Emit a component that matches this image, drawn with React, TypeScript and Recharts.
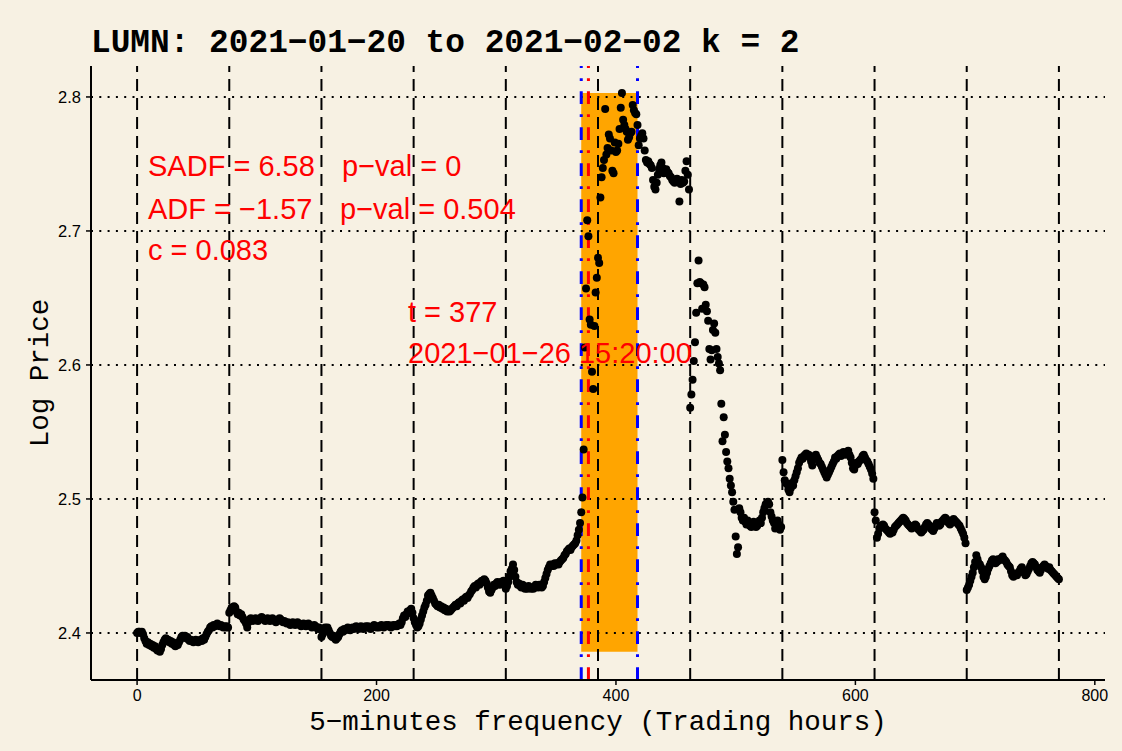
import { ComposedChart, Scatter, XAxis, YAxis, ReferenceLine, ReferenceArea } from "recharts"

// log price, one array per trading day (5-minute bars)
const day1 = [
  2.400, 2.401, 2.401, 2.400, 2.401, 2.399, 2.396, 2.394, 2.392, 2.393, 2.391, 2.392, 2.390,
  2.391, 2.389, 2.390, 2.388, 2.387, 2.388, 2.386, 2.388, 2.391, 2.393, 2.395, 2.396, 2.394, 2.395, 2.393,
  2.394, 2.392, 2.393, 2.391, 2.390, 2.392, 2.391, 2.393, 2.395, 2.397, 2.398, 2.397, 2.398, 2.396, 2.397, 2.395, 2.394,
  2.395, 2.394, 2.393, 2.394, 2.395, 2.394, 2.393, 2.394, 2.395, 2.394, 2.396, 2.395,
  2.397, 2.399, 2.401, 2.402, 2.404, 2.405, 2.404, 2.406,
  2.405, 2.406, 2.407, 2.406, 2.405, 2.406, 2.405, 2.404, 2.405, 2.404, 2.405, 2.404,
]
const day2 = [
  2.415, 2.417, 2.419, 2.418, 2.420, 2.419, 2.416, 2.414, 2.415, 2.413, 2.414, 2.412,
  2.410, 2.409, 2.407, 2.404, 2.408,
  2.410, 2.411, 2.410, 2.409, 2.410, 2.411, 2.410, 2.409, 2.410, 2.411, 2.412, 2.411,
  2.410, 2.409, 2.410, 2.411, 2.410, 2.409, 2.410, 2.411, 2.410, 2.409, 2.408, 2.409, 2.410, 2.411, 2.410,
  2.409, 2.408, 2.409, 2.408, 2.407, 2.408, 2.407, 2.406, 2.407, 2.408, 2.407, 2.406, 2.407, 2.408, 2.407,
  2.406, 2.405, 2.406, 2.407, 2.406, 2.405, 2.406, 2.407, 2.406, 2.405, 2.404, 2.405, 2.406, 2.405, 2.404, 2.403, 2.404, 2.403,
]
const day3 = [
  2.397, 2.399, 2.402, 2.404, 2.403, 2.404, 2.402,
  2.400, 2.398, 2.397, 2.398, 2.396, 2.395, 2.396, 2.397, 2.399, 2.401,
  2.402, 2.401, 2.403, 2.402, 2.403, 2.404, 2.403, 2.402, 2.403, 2.404, 2.403, 2.404, 2.405, 2.404, 2.403,
  2.404, 2.405, 2.404, 2.403, 2.404, 2.405, 2.404, 2.405, 2.404, 2.403, 2.404, 2.405, 2.406, 2.405, 2.404,
  2.405, 2.404, 2.405, 2.406, 2.405, 2.404, 2.405, 2.406, 2.405, 2.406, 2.405, 2.404, 2.405, 2.406, 2.405,
  2.406, 2.405, 2.406, 2.407, 2.406, 2.408, 2.411, 2.413, 2.412, 2.414, 2.416, 2.415, 2.417, 2.418, 2.415,
]
const day4 = [
  2.411, 2.408, 2.406, 2.404, 2.405, 2.407, 2.410,
  2.413, 2.416, 2.419, 2.421, 2.424, 2.428, 2.429, 2.430, 2.428, 2.426,
  2.424, 2.422, 2.421, 2.420, 2.421, 2.419, 2.420, 2.418, 2.419, 2.417, 2.418, 2.416, 2.417, 2.416, 2.417,
  2.418, 2.419, 2.420, 2.421, 2.420, 2.422, 2.423, 2.422, 2.424, 2.425, 2.424, 2.426, 2.427, 2.426, 2.428,
  2.429, 2.431, 2.432, 2.434, 2.435, 2.434, 2.436, 2.437, 2.436, 2.438, 2.439, 2.438, 2.440, 2.439, 2.437,
  2.434, 2.431, 2.430, 2.432, 2.434, 2.436, 2.435, 2.437, 2.438, 2.437, 2.436, 2.438, 2.437, 2.439, 2.438,
]
const day5 = [
  2.433, 2.435, 2.438, 2.442, 2.446, 2.448, 2.451, 2.447,
  2.442, 2.438, 2.436, 2.437, 2.435, 2.434, 2.436, 2.435, 2.433, 2.434, 2.433, 2.435, 2.434, 2.433, 2.434,
  2.433, 2.434, 2.436, 2.435, 2.434, 2.436, 2.435, 2.434, 2.435, 2.438, 2.441, 2.444, 2.447, 2.449, 2.451,
  2.450, 2.451, 2.450, 2.452, 2.451, 2.452, 2.451, 2.453, 2.454, 2.455, 2.456, 2.458, 2.459, 2.461, 2.462,
  2.463, 2.462, 2.464, 2.465, 2.466, 2.467, 2.469, 2.473, 2.477, 2.482, 2.490,
  2.501, 2.537, 2.613, 2.657, 2.708, 2.696, 2.634, 2.630, 2.595, 2.582, 2.629, 2.654, 2.665,
]
const day6 = [
  2.680, 2.676, 2.725, 2.740, 2.747, 2.753, 2.791, 2.757, 2.762, 2.772, 2.769, 2.760, 2.745, 2.743,
  2.766, 2.759, 2.760, 2.765, 2.776, 2.792, 2.803, 2.783, 2.779, 2.776, 2.774, 2.768, 2.770, 2.773,
  2.774, 2.794, 2.790, 2.788, 2.787, 2.779, 2.764, 2.769, 2.771, 2.773, 2.769, 2.760, 2.753,
  2.751, 2.752, 2.750, 2.749, 2.747, 2.738, 2.733, 2.731, 2.736, 2.742, 2.746, 2.749, 2.751, 2.747,
  2.743, 2.745, 2.746, 2.744, 2.743, 2.741, 2.740, 2.738, 2.737, 2.736, 2.738, 2.739, 2.737, 2.722,
  2.735, 2.738, 2.736, 2.737, 2.745, 2.752, 2.742, 2.731,
]
const day7 = [
  2.568, 2.578, 2.589, 2.603, 2.617, 2.639, 2.661, 2.678, 2.662, 2.661, 2.642, 2.660, 2.658, 2.645,
  2.640, 2.633, 2.612, 2.604, 2.611, 2.626, 2.631, 2.624, 2.612, 2.606, 2.601, 2.596, 2.571, 2.543,
  2.561, 2.548, 2.535, 2.528, 2.523, 2.515, 2.510, 2.505, 2.498, 2.492, 2.472, 2.459, 2.464, 2.493,
  2.490, 2.486, 2.484, 2.486, 2.483, 2.481, 2.484, 2.482, 2.480, 2.479, 2.481, 2.483, 2.481, 2.479,
  2.480, 2.482, 2.484, 2.482, 2.486, 2.490, 2.493, 2.496, 2.497, 2.498, 2.496, 2.490, 2.487, 2.484,
  2.482, 2.478, 2.480, 2.484, 2.481, 2.477, 2.479,
]
const day8 = [
  2.529, 2.520, 2.514, 2.512, 2.511, 2.507, 2.505, 2.508, 2.512, 2.510, 2.514, 2.517, 2.520, 2.523,
  2.527, 2.529, 2.531, 2.530, 2.532, 2.533, 2.534, 2.532, 2.533, 2.531, 2.528, 2.525, 2.531, 2.532,
  2.533, 2.531, 2.529, 2.527, 2.526, 2.524, 2.522, 2.520, 2.518, 2.516, 2.518, 2.520, 2.522, 2.524,
  2.526, 2.528, 2.531, 2.530, 2.532, 2.533, 2.534, 2.532, 2.533, 2.535, 2.534, 2.533, 2.535, 2.536,
  2.533, 2.531, 2.527, 2.523, 2.522, 2.525, 2.527, 2.526, 2.528, 2.529, 2.530, 2.532, 2.533, 2.531,
  2.529, 2.528, 2.526, 2.524, 2.522, 2.519, 2.515,
]
const day9 = [
  2.490, 2.484, 2.471, 2.474, 2.478, 2.480, 2.479, 2.481, 2.480, 2.478, 2.477, 2.476, 2.475, 2.474,
  2.476, 2.475, 2.477, 2.479, 2.480, 2.481, 2.482, 2.483, 2.484, 2.485, 2.486, 2.485, 2.484, 2.482,
  2.481, 2.480, 2.479, 2.478, 2.479, 2.480, 2.481, 2.480, 2.478, 2.477, 2.476, 2.475, 2.476, 2.477,
  2.479, 2.481, 2.482, 2.481, 2.480, 2.478, 2.477, 2.476, 2.478, 2.480, 2.482, 2.481, 2.480, 2.481,
  2.483, 2.484, 2.485, 2.486, 2.485, 2.483, 2.482, 2.481, 2.482, 2.484, 2.485, 2.484, 2.483, 2.482,
  2.481, 2.480, 2.478, 2.476, 2.474, 2.471, 2.467,
]
const day10 = [
  2.432, 2.434, 2.436, 2.439, 2.442, 2.445, 2.449, 2.453, 2.458, 2.455, 2.452, 2.451, 2.449, 2.446,
  2.442, 2.440, 2.442, 2.445, 2.448, 2.450, 2.452, 2.454, 2.455, 2.453, 2.452, 2.453, 2.455, 2.454,
  2.455, 2.456, 2.457, 2.455, 2.454, 2.453, 2.451, 2.450, 2.449, 2.446, 2.443, 2.442, 2.443, 2.444,
  2.443, 2.445, 2.446, 2.448, 2.449, 2.447, 2.445, 2.443, 2.444, 2.446, 2.448, 2.450, 2.452, 2.453,
  2.452, 2.451, 2.449, 2.447, 2.446, 2.445, 2.447, 2.449, 2.450, 2.451, 2.450, 2.449, 2.448, 2.449,
  2.447, 2.446, 2.445, 2.444, 2.443, 2.442, 2.441, 2.440,
]

const dayBreaks = [0, 77, 154, 231, 308, 385, 462, 539, 616, 693, 770]
const bubbleStart = 371
const bubbleEnd = 418
const originT = 377
const xTicks = [0, 200, 400, 600, 800]
const yTicks = [2.4, 2.5, 2.6, 2.7, 2.8]

const prices = [...day1, ...day2, ...day3, ...day4, ...day5, ...day6, ...day7, ...day8, ...day9, ...day10]
const series = prices.map((y, i) => ({ x: i, y }))
const yMin = Math.min(...prices)
const yMax = Math.max(...prices)

const BG = "#f7f1e3"
const SANS = "'Liberation Sans', Arial, Helvetica, sans-serif"
const MONO = "'Liberation Mono', 'Courier New', monospace"

const dotDash = "12.7 10.3 2.7 10.3"

// tick labels drawn by hand so the font size sticks
const XTick = (p: any) => (
  <text x={p.x} y={p.y} dy="0.71em" textAnchor="middle" fontFamily={SANS} fontSize={16} fill="#000">
    {p.payload.value}
  </text>
)
const YTick = (p: any) => (
  <text x={p.x} y={p.y} dy="0.355em" textAnchor="end" fontFamily={SANS} fontSize={16.5} fill="#000">
    {Number(p.payload.value).toFixed(1)}
  </text>
)

export default function App() {
  return (
    <div style={{ position: "absolute", left: 0, top: 0, width: 1122, height: 751, background: BG }}>
      <ComposedChart
        width={1122}
        height={751}
        data={series}
        margin={{ top: 66, right: 17, bottom: 41, left: 31 }}
        style={{ position: "absolute", left: 0, top: 0 }}
      >
        <XAxis
          type="number"
          dataKey="x"
          domain={[-38.5, 808.5]}
          ticks={xTicks}
          interval={0}
          allowDataOverflow
          height={30}
          tickSize={5}
          tickMargin={5}
          axisLine={{ stroke: "#000", strokeWidth: 2 }}
          tickLine={{ stroke: "#000", strokeWidth: 1.5 }}
          tick={XTick}
        />
        <YAxis
          type="number"
          domain={[2.3649, 2.8231]}
          ticks={yTicks}
          interval={0}
          allowDataOverflow
          width={60}
          tickSize={5}
          tickMargin={5}
          axisLine={{ stroke: "#000", strokeWidth: 2 }}
          tickLine={{ stroke: "#000", strokeWidth: 1.5 }}
          tick={YTick}
        />
        <ReferenceArea
          x1={bubbleStart}
          x2={bubbleEnd}
          y1={yMin}
          y2={yMax}
          fill="#ffa500"
          fillOpacity={1}
          stroke="none"
        />
        {yTicks.map((v) => (
          <ReferenceLine key={"h" + v} y={v} stroke="#000" strokeWidth={2} strokeDasharray="2 6.3" />
        ))}
        {dayBreaks.map((d) => (
          <ReferenceLine key={"d" + d} x={d} stroke="#000" strokeWidth={2} strokeDasharray="12 7" />
        ))}
        <ReferenceLine x={bubbleStart} stroke="#0000ff" strokeWidth={3} strokeDasharray={dotDash} />
        <ReferenceLine x={bubbleEnd} stroke="#0000ff" strokeWidth={3} strokeDasharray={dotDash} />
        <ReferenceLine x={originT} stroke="#ff0000" strokeWidth={3} strokeDasharray={dotDash} />
        <Scatter
          data={series}
          dataKey="y"
          isAnimationActive={false}
          shape={(p: any) => (p.cx == null ? <g /> : <circle cx={p.cx} cy={p.cy} r={4} fill="#000" />)}
        />
      </ComposedChart>
      <svg width={1122} height={751} style={{ position: "absolute", left: 0, top: 0, pointerEvents: "none" }}>
        <text x={91} y={52} fontFamily={MONO} fontWeight="bold" fontSize={32.8} fill="#000">
          LUMN: 2021−01−20 to 2021−02−02 k = 2
        </text>
        <text x={598} y={730} fontFamily={MONO} fontSize={27.5} fill="#000" textAnchor="middle">
          5−minutes frequency (Trading hours)
        </text>
        <text
          x={40}
          y={373}
          fontFamily={MONO}
          fontSize={27.5}
          fill="#000"
          textAnchor="middle"
          dominantBaseline="central"
          transform="rotate(-90 40 373)"
        >
          Log Price
        </text>
        <g fontFamily={SANS} fontSize={29} fill="#ff0000">
          <text x={148} y={176}>SADF = 6.58</text>
          <text x={342} y={176}>p−val = 0</text>
          <text x={148} y={219}>ADF = −1.57</text>
          <text x={340} y={219}>p−val = 0.504</text>
          <text x={148} y={260}>c = 0.083</text>
          <text x={408} y={322}>t = 377</text>
          <text x={408} y={363}>2021−01−26 15:20:00</text>
        </g>
      </svg>
    </div>
  )
}
